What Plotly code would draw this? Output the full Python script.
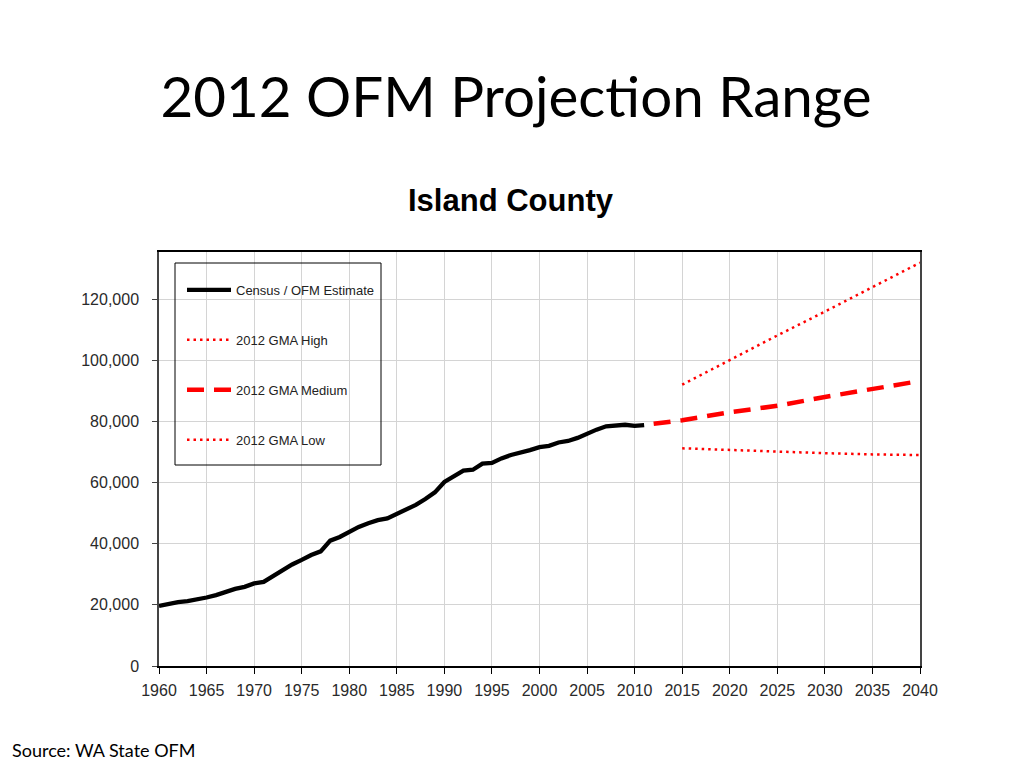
import plotly.graph_objects as go

# ---------------- data ----------------
census_years = list(range(1960, 2012))
census_pop = [19638, 20300, 20900, 21200, 21700, 22400, 23200, 24300, 25200, 25900,
              27011, 27500, 29500, 31500, 33200, 34700, 36300, 37500, 41000, 42200,
              44048, 45500, 46700, 47700, 48300, 49800, 51200, 52700, 54600, 56800,
              60195, 62100, 63900, 64200, 66200, 66400, 67900, 69000, 69700, 70600,
              71558, 72000, 73100, 73600, 74600, 76000, 77300, 78400, 78700, 78900,
              78506, 78800]

proj_years = [2015, 2020, 2025, 2030, 2035, 2040]
high_pop = [92000, 100100, 108100, 115900, 124000, 131900]
low_pop = [71200, 70600, 70100, 69600, 69200, 69000]

medium_years = [2012, 2015, 2020, 2025, 2030, 2035, 2040]
medium_pop = [79200, 80400, 83000, 85100, 88000, 90500, 93200]

x_ticks = list(range(1960, 2041, 5))
y_ticks = list(range(0, 120001, 20000))

slide_title = "2012 OFM Projection Range"
chart_title = "Island County"
source_text = "Source: WA State OFM"
series_names = ["Census / OFM Estimate", "2012 GMA High", "2012 GMA Medium", "2012 GMA Low"]

# ---------------- layout geometry ----------------
OFF = 8  # page body margin
W, H = 1024 - OFF, 768 - OFF
L, R, T, B = 159 - OFF, 920 - OFF, 252 - OFF, 666 - OFF
pw, ph = R - L, B - T


def px(x):
    return (x - OFF - L) / pw


def py(y):
    return (B - (y - OFF)) / ph


fig = go.Figure()

fig.add_trace(go.Scatter(x=census_years, y=census_pop, mode="lines", name=series_names[0],
                         line=dict(color="black", width=4.3), legendgroup="a"))
fig.add_trace(go.Scatter(x=proj_years, y=high_pop, mode="lines", name=series_names[1],
                         line=dict(color="#ff0000", width=2.5, dash="2.5px,4px"), legendgroup="b"))
fig.add_trace(go.Scatter(x=medium_years, y=medium_pop, mode="lines", name=series_names[2],
                         line=dict(color="#ff0000", width=4.5, dash="17px,10px"), legendgroup="c"))
fig.add_trace(go.Scatter(x=proj_years, y=low_pop, mode="lines", name=series_names[3],
                         line=dict(color="#ff0000", width=2.5, dash="2.5px,4px"), legendgroup="d"))

axis_font = dict(family="Liberation Sans, Arial", size=16, color="#2a2a2a")

fig.update_layout(
    width=W, height=H,
    margin=dict(l=L, r=W - R, t=T, b=H - B, pad=0),
    paper_bgcolor="white", plot_bgcolor="white",
    showlegend=True,
    legend=dict(x=px(182), y=py(275), xanchor="left", yanchor="top",
                bgcolor="rgba(0,0,0,0)", borderwidth=0,
                font=dict(family="Liberation Sans, Arial", size=13, color="#222222"),
                tracegroupgap=30, itemwidth=44),
    title=dict(text=slide_title, x=0.5, xanchor="center", y=1 - (97 - OFF) / H, yanchor="middle",
               xref="container", yref="container",
               font=dict(family="Lato, Noto Sans", size=56.5, color="black")),
    xaxis=dict(range=[1960, 2040], tickvals=x_ticks, ticktext=[str(v) for v in x_ticks],
               showgrid=True, gridcolor="#d4d4d4", gridwidth=1,
               showline=True, linecolor="black", linewidth=1.5, mirror=True,
               ticks="outside", ticklen=6, tickcolor="black",
               tickfont=axis_font, zeroline=False, ticklabelstandoff=3),
    yaxis=dict(range=[0, 135400], tickvals=y_ticks, ticktext=[f"{v:,}" for v in y_ticks],
               showgrid=True, gridcolor="#d4d4d4", gridwidth=1,
               showline=True, linecolor="#444444", linewidth=1.5, mirror=True,
               ticks="outside", ticklen=5, tickcolor="#444444",
               tickfont=axis_font, zeroline=False, ticklabelstandoff=10),
    shapes=[dict(type="rect", xref="paper", yref="paper",
                 x0=px(175), x1=px(381), y0=py(465), y1=py(263),
                 line=dict(color="black", width=1), fillcolor="rgba(0,0,0,0)")],
    annotations=[
        dict(text="<b>" + chart_title + "</b>", x=px(511), y=py(201), xref="paper", yref="paper",
             xanchor="center", yanchor="middle", showarrow=False,
             font=dict(family="Liberation Sans, Arial", size=31, color="black")),
        dict(text=source_text, x=px(10), y=py(750), xref="paper", yref="paper",
             xanchor="left", yanchor="middle", showarrow=False,
             font=dict(family="Lato, Noto Sans", size=18, color="black")),
    ],
)

fig.write_html("out.html")
